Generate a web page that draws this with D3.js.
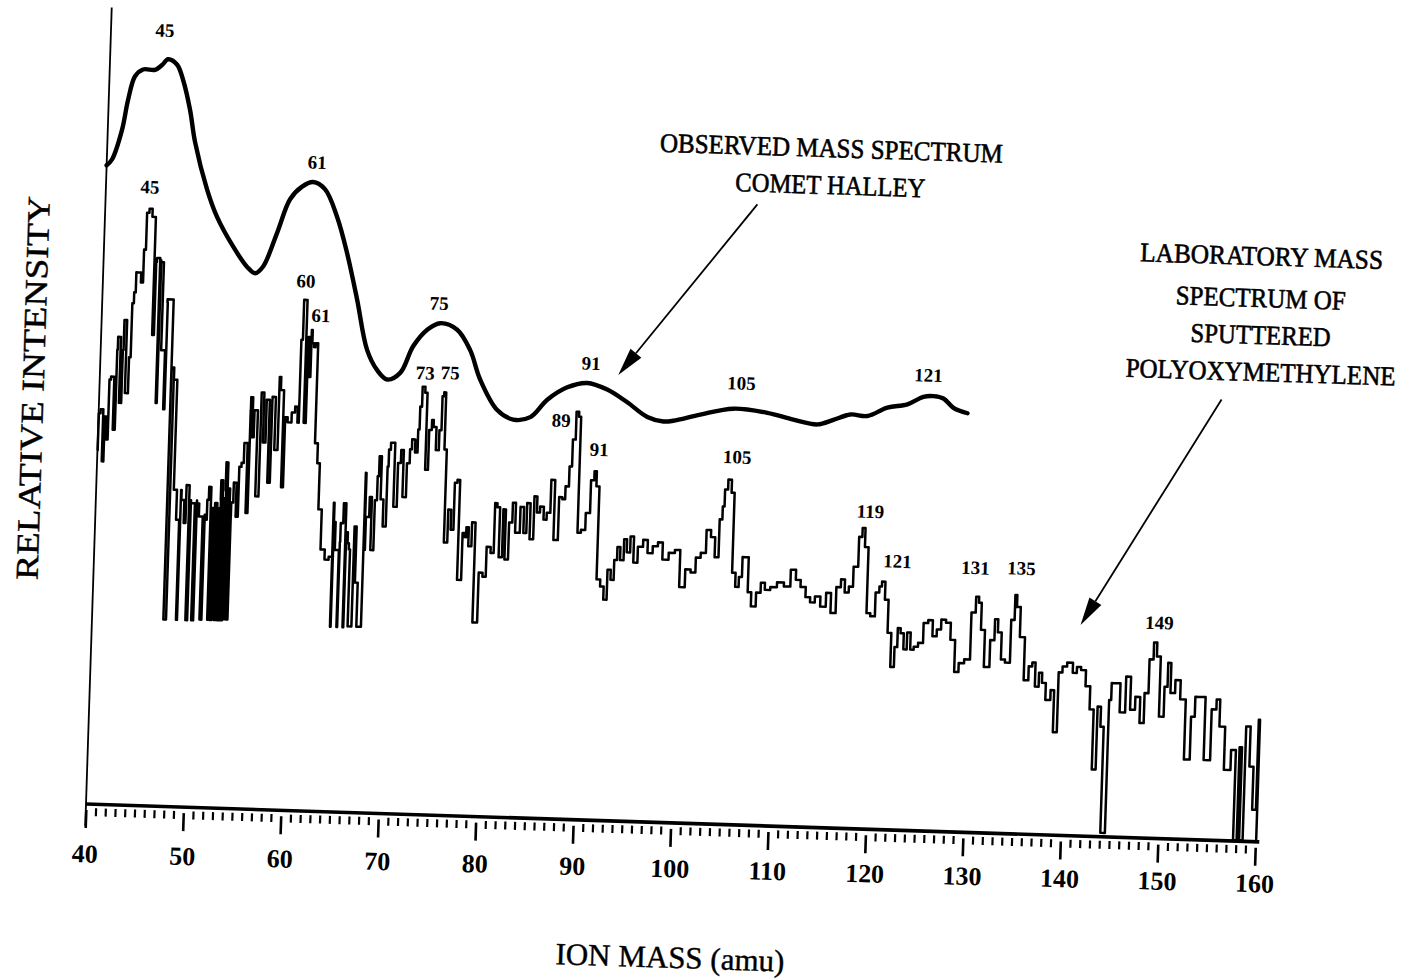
<!DOCTYPE html>
<html><head><meta charset="utf-8">
<script src="https://cdn.jsdelivr.net/npm/d3@7"></script>
<style>
body{margin:0;background:#fff}
svg{display:block}
text{font-family:"Liberation Serif","Times New Roman",serif;fill:#000}
</style>
</head><body>
<svg id="c" width="1416" height="979"></svg>
<script>
// ---------- DATA ----------
// Observed mass spectrum, Comet Halley (smooth curve): ion mass (amu), relative intensity (arb.)
const obsMass = [40.0,40.53,41.46,41.98,42.62,43.42,44.65,45.35,45.95,46.88,47.55,48.37,48.99,50.38,51.49,53.23,54.74,55.58,56.38,57.70,58.92,60.11,61.22,62.48,63.79,64.94,66.12,67.31,68.41,69.47,70.78,72.02,73.41,74.72,76.48,77.88,79.0,80.85,82.52,84.26,85.95,87.96,89.99,92.06,94.15,96.26,97.92,98.93,101.68,105.05,108.55,111.24,113.72,115.34,117.07,118.82,120.84,122.88,124.50,125.52,126.55,127.61,129.07];
const obsInt  = [639,645,675,705,729,736,736,741,747,742,727,697,665,618,591,562,542,536,543,577,611,624,629,622,595,559,513,463,443,434,441,468,485,492,486,466,437,407,398,401,419,432,437,431,419,405,401,402,409,416,413,407,403,408,414,413,422,426,434,435,433,424,419];

// Laboratory mass spectrum of sputtered polyoxymethylene (trace)
const labMass = [40.0,40.05,40.34,40.61,40.67,40.95,41.06,41.26,41.73,41.68,41.83,42.26,42.29,42.40,42.84,43.03,43.16,43.34,43.47,43.78,44.02,44.22,44.40,44.70,45.03,45.42,45.39,45.57,46.05,45.79,46.0,46.40,46.80,46.65,46.74,47.90,47.28,47.48,47.73,48.19,48.39,48.83,48.60,48.94,49.22,49.30,49.85,49.66,49.87,50.47,50.27,50.49,50.74,51.29,51.14,51.37,51.50,51.67,51.95,51.85,52.31,52.16,52.33,52.62,52.50,52.93,52.73,52.88,53.12,53.02,53.44,53.22,53.33,53.62,53.52,53.95,53.82,53.97,54.22,54.54,54.67,54.97,55.12,55.65,55.52,55.68,55.92,56.03,56.62,56.69,57.17,57.22,57.81,57.74,57.83,58.42,58.49,58.73,59.15,59.13,59.66,59.94,60.33,60.48,60.61,60.79,61.30,61.22,61.56,61.61,61.75,61.98,62.06,62.50,62.66,63.03,63.36,63.91,64.20,64.64,64.33,64.50,64.42,64.90,65.26,65.05,65.33,65.56,65.85,65.72,66.18,66.01,66.44,66.79,66.87,67.37,67.82,67.51,67.98,68.18,68.42,68.80,68.84,69.07,69.31,69.66,69.95,69.85,70.32,70.71,71.02,71.28,71.55,72.0,72.10,72.37,72.75,72.89,73.02,73.25,73.59,73.72,74.17,74.25,74.52,74.85,75.14,75.27,75.47,75.67,75.96,76.37,76.57,76.94,77.09,77.49,77.93,77.97,78.20,78.46,78.84,79.17,79.81,79.96,80.48,80.79,81.12,81.26,81.69,81.95,82.21,82.68,82.86,83.31,83.82,84.04,84.43,84.74,85.18,85.34,85.81,86.10,86.44,86.83,87.24,87.74,87.90,88.32,88.59,88.83,89.16,89.37,89.59,90.07,90.47,90.94,91.13,91.41,91.77,92.18,92.51,92.86,93.18,93.51,93.75,94.12,94.47,94.72,95.17,95.43,96.02,96.48,96.97,97.53,98.02,98.52,99.29,99.78,100.39,100.92,101.49,101.91,102.47,102.96,103.40,103.84,104.20,104.39,104.56,105.01,105.29,105.64,106.01,106.35,106.63,106.97,107.28,107.71,108.27,108.63,109.11,109.75,110.46,111.17,111.79,112.25,112.80,113.33,113.77,114.30,114.90,115.45,115.91,116.50,116.82,117.31,117.66,118.15,118.60,118.81,119.19,119.56,119.98,120.51,120.73,121.02,121.42,121.78,122.20,122.52,122.76,123.11,123.43,123.80,124.15,124.51,125.02,125.52,125.96,126.46,126.83,127.32,127.80,128.32,128.79,129.20,129.89,130.39,130.75,131.0,131.33,131.83,132.47,132.69,133.13,133.48,133.98,134.50,134.67,134.90,135.45,135.96,136.41,136.68,137.07,137.46,137.72,138.27,138.74,139.0,139.55,139.77,140.47,140.96,141.31,141.81,142.33,142.79,143.18,143.58,143.88,144.26,144.82,144.68,145.34,145.96,146.47,146.96,147.48,147.96,148.34,148.76,149.16,149.42,149.97,150.38,150.58,151.02,151.53,152.10,152.69,153.29,153.45,154.11,154.73,155.44,155.69,156.17,156.88,157.53,157.87,158.27,158.37,158.99,158.93,159.34,159.78,160.12,160.03,160.3];
const labInt  = [354,391,395,343,388,365,425,428,375,455,468,402,455,485,412,448,502,513,533,533,523,556,593,597,589,471,544,548,403,546,544,456,397,504,507,187,437,439,427,317,287,187,317,307,284,322,187,307,304,187,307,304,291,188,293,288,308,321,188,300,188,298,305,188,300,188,308,328,188,310,188,318,346,189,320,189,292,306,326,292,342,346,366,296,399,412,372,399,313,417,367,410,327,410,413,360,433,420,323,393,388,398,404,388,471,511,388,474,434,481,468,464,468,368,348,302,262,252,255,185,309,190,290,262,185,270,289,309,185,280,269,263,186,286,230,186,340,263,296,316,263,313,337,357,314,287,347,364,371,307,351,364,317,351,365,375,362,385,408,428,422,345,385,395,388,365,385,419,423,366,273,306,286,333,336,236,283,279,289,270,294,194,244,240,270,264,314,310,260,308,258,295,315,285,311,285,315,279,322,306,312,299,306,339,279,322,320,333,353,380,408,403,287,290,307,340,349,334,241,234,221,251,241,261,274,261,282,269,285,259,275,282,269,276,280,263,270,273,236,254,251,266,271,294,287,267,305,318,335,345,332,252,238,248,268,268,233,219,233,243,236,239,244,240,257,247,240,230,225,231,221,235,215,241,249,236,242,262,292,301,282,216,213,237,243,248,230,197,163,183,202,197,181,198,181,184,188,208,211,195,202,212,209,192,160,169,173,220,236,230,203,166,193,214,201,174,171,214,239,227,197,154,168,172,148,162,152,135,145,103,163,169,173,163,169,166,150,127,67,130,110,4,137,154,154,125,161,128,141,115,145,179,196,182,122,152,176,146,159,140,80,123,143,143,80,131,141,114,71,91,1,94,1,115,115,75,32,122,2];

// Axis tick values
const xMajorTicks = [40,50,60,70,80,90,100,110,120,130,140,150,160];
const xMinorTicks = d3.range(41,160).filter(v => v % 10 !== 0);

// Peak labels (observed curve)
const obsPeakText = ["45","61","75","91","105","121"];
const obsPeakMass = [45.54,61.57,74.54,90.33,105.79,124.94];
const obsPeakInt  = [776,649,512,457,442,456];

// Peak labels (laboratory trace)
const labPeakText = ["45","60","61","73","75","89","91","105","119","121","131","135","149"];
const labPeakMass = [44.52,60.83,62.48,73.34,75.90,87.45,91.44,105.62,119.44,122.38,130.40,135.11,149.45];
const labPeakInt  = [619,530,496,442,443,399,371,368,318,269,265,266,216];

// Annotation text lines (anchored in data coordinates)
const noteText = ["OBSERVED MASS SPECTRUM","COMET HALLEY","LABORATORY MASS","SPECTRUM OF","SPUTTERED","POLYOXYMETHYLENE"];
const noteMass = [114.24,114.25,158.70,158.74,158.86,158.98];
const noteInt  = [680,643,586,544,507,470];

// Arrows (data coordinates)
const arrowFromMass = [106.84,155.07];
const arrowFromInt  = [621,441];
const arrowToMass   = [93.14,141.36];
const arrowToInt    = [446,211];

// ---------- LAYOUT ----------
const noteWidths = [343,190,243,170,140,270];
const svg = d3.select("#c");
const x = d3.scaleLinear().domain([40,160]).range([0,1170]);
const y = d3.scaleLinear().domain([0,800]).range([0,-800]);

const g = svg.append("g").attr("transform","translate(86,804) rotate(1.85)");

// axes lines
g.append("line").attr("x1",x(40)).attr("x2",x(160.4)).attr("y1",0).attr("y2",0)
  .attr("stroke","#000").attr("stroke-width",3.6);
g.append("line").attr("x1",0).attr("x2",0).attr("y1",22).attr("y2",y(797))
  .attr("stroke","#000").attr("stroke-width",1.8);

// minor ticks
const minorAx = g.append("g").attr("transform","translate(0,4)")
  .call(d3.axisBottom(x).tickValues(xMinorTicks).tickSize(8).tickFormat(""));
minorAx.select(".domain").remove();
minorAx.selectAll("line").attr("stroke-width",2.2);

// major ticks + labels
const majorAx = g.append("g").attr("transform","translate(0,6)")
  .call(d3.axisBottom(x).tickValues(xMajorTicks).tickSize(18).tickPadding(12).tickFormat(d3.format("d")));
majorAx.select(".domain").remove();
majorAx.selectAll("line").attr("stroke-width",2.6);
majorAx.selectAll("text").attr("font-size",26).attr("font-weight","bold")
  .attr("font-family","'Liberation Serif',serif").attr("fill","#000")
  .attr("y",d=>34 - 8*x(d)/1170);

// axis titles
g.append("text").attr("x",588.6).attr("y",134.1).attr("dy","0.35em")
  .attr("text-anchor","middle").attr("font-size",31)
  .attr("stroke","#000").attr("stroke-width",0.4).text("ION MASS (amu)");
g.append("text").attr("transform","translate(-67,-414) rotate(-90)").attr("dy","0.35em")
  .attr("text-anchor","middle").attr("font-size",32)
  .attr("stroke","#000").attr("stroke-width",0.4)
  .attr("textLength",384).attr("lengthAdjust","spacingAndGlyphs").text("RELATIVE INTENSITY");

// lab trace (stepped, like the recorder output)
const labData = labMass.map((m,i)=>[m,labInt[i]]);
g.append("path").datum(labData)
  .attr("d",d3.line().x(d=>x(d[0])).y(d=>y(d[1])).curve(d3.curveStep))
  .attr("fill","none").attr("stroke","#000").attr("stroke-width",2.5).attr("stroke-linejoin","round");

// observed curve
const obsData = obsMass.map((m,i)=>[m,obsInt[i]]);
g.append("path").datum(obsData)
  .attr("d",d3.line().x(d=>x(d[0])).y(d=>y(d[1])).curve(d3.curveCatmullRom.alpha(0.5)))
  .attr("fill","none").attr("stroke","#000").attr("stroke-width",4.4)
  .attr("stroke-linejoin","round").attr("stroke-linecap","round");

// peak labels
function peakLabels(texts, ms, is){
  g.selectAll(null).data(texts).enter().append("text")
    .attr("x",(d,i)=>x(ms[i])).attr("y",(d,i)=>y(is[i])).attr("dy","0.35em")
    .attr("text-anchor","middle").attr("font-size",19).attr("font-weight","bold").text(d=>d);
}
peakLabels(obsPeakText, obsPeakMass, obsPeakInt);
peakLabels(labPeakText, labPeakMass, labPeakInt);

// annotation text
g.selectAll(null).data(noteText).enter().append("text")
  .attr("x",(d,i)=>x(noteMass[i])).attr("y",(d,i)=>y(noteInt[i])).attr("dy","0.35em")
  .attr("text-anchor","middle").attr("font-size",27)
  .attr("stroke","#000").attr("stroke-width",0.6)
  .attr("textLength",(d,i)=>noteWidths[i]).attr("lengthAdjust","spacingAndGlyphs").text(d=>d);

// arrows
arrowFromMass.forEach((m,i)=>{
  const x1=x(m), y1=y(arrowFromInt[i]), x2=x(arrowToMass[i]), y2=y(arrowToInt[i]);
  const ang=Math.atan2(y2-y1,x2-x1), L=28, W=7;
  const bx=x2-L*Math.cos(ang), by=y2-L*Math.sin(ang);
  g.append("line").attr("x1",x1).attr("y1",y1).attr("x2",bx).attr("y2",by)
    .attr("stroke","#000").attr("stroke-width",1.8);
  const px=-Math.sin(ang), py=Math.cos(ang);
  g.append("path").attr("d",`M${x2},${y2}L${bx+W*px},${by+W*py}L${bx-W*px},${by-W*py}Z`).attr("fill","#000");
});
</script>
</body></html>
